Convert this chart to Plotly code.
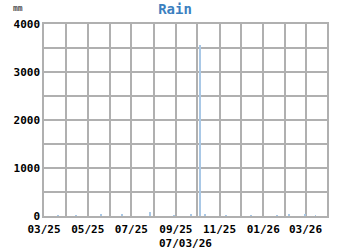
import plotly.graph_objects as go

dates = ["2025-03-20", "2025-04-15", "2025-05-20", "2025-06-18", "2025-07-27",
         "2025-08-30", "2025-09-22", "2025-10-05", "2025-10-12", "2025-11-10",
         "2025-12-15", "2026-01-20", "2026-02-06", "2026-02-28", "2026-03-15"]
rain_mm = [15, 20, 40, 25, 90, 15, 30, 3560, 40, 20, 15, 20, 30, 35, 20]

x_tick_vals = ["2025-03-01", "2025-05-01", "2025-07-01", "2025-09-01",
               "2025-11-01", "2026-01-01", "2026-03-01"]
x_tick_text = ["03/25", "05/25", "07/25", "09/25", "11/25", "01/26", "03/26"]
y_tick_vals = [0, 1000, 2000, 3000, 4000]

FONT = "DejaVu Sans Mono"
GRID = "#b0b0b0"

fig = go.Figure()
fig.add_trace(go.Bar(x=dates, y=rain_mm, width=1.2 * 86400000,
                     marker=dict(color="#a9c8e6", line=dict(width=0))))

fig.update_layout(
    width=350, height=250,
    margin=dict(l=44, r=23, t=24, b=34, autoexpand=False),
    paper_bgcolor="white", plot_bgcolor="white",
    showlegend=False,
    title=dict(text="<b>Rain</b>", x=0.5, xanchor="center", y=0.985, yanchor="top",
               font=dict(family=FONT, size=14, color="#3b7fc0")),
    font=dict(family=FONT, size=11, color="black"),
    bargap=0,
)
fig.update_xaxes(
    type="date", range=["2025-03-01", "2026-03-31"],
    tickvals=x_tick_vals, ticktext=["<b>%s</b>" % t for t in x_tick_text],
    showgrid=True, gridcolor=GRID, gridwidth=1.5,
    minor=dict(dtick="M1", tick0="2025-03-01", showgrid=True, gridcolor=GRID, gridwidth=1.5),
    showline=True, linecolor=GRID, linewidth=1.5, mirror=True,
    ticks="", ticklabelstandoff=2, tickfont=dict(family=FONT, size=11, color="black"),
    title=dict(text="<b>07/03/26</b>", font=dict(family=FONT, size=11, color="black"), standoff=5),
    zeroline=False, automargin=False,
)
fig.update_yaxes(
    range=[0, 4000], tickvals=y_tick_vals,
    ticktext=["<b>%d</b>" % v for v in y_tick_vals],
    showgrid=True, gridcolor=GRID, gridwidth=1.5,
    minor=dict(dtick=500, showgrid=True, gridcolor=GRID, gridwidth=1.5),
    showline=True, linecolor=GRID, linewidth=1.5, mirror=True,
    ticks="", tickfont=dict(family=FONT, size=11, color="black"),
    zeroline=False, automargin=False,
)
fig.add_annotation(text="<b>mm</b>", x=-0.117, y=1.0, xref="paper", yref="paper",
                   xanchor="left", yanchor="top", showarrow=False, yshift=22,
                   font=dict(family=FONT, size=8, color="#555555"))

fig.write_html("out.html")
